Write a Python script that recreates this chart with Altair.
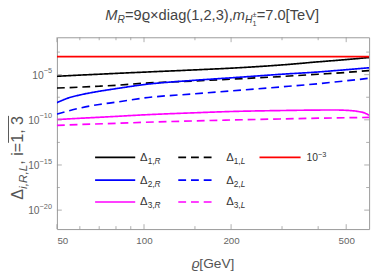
import altair as alt
import pandas as pd
import numpy as np

# ---- data (log10 of Delta values) ----
rho_a = [50, 60, 70, 80, 100, 150, 200, 300, 400, 500, 600]
delta1R = [-5.18, -5.05, -4.95, -4.86, -4.72, -4.47, -4.28, -3.92, -3.58, -3.33, -3.10]
delta1L = [-6.48, -6.38, -6.28, -6.18, -5.95, -5.70, -5.50, -5.20, -4.95, -4.75, -4.55]
rho_b = [50, 55, 60, 70, 80, 100, 150, 200, 300, 400, 500, 600]
delta2R = [-8.10, -7.56, -7.25, -6.84, -6.55, -6.10, -5.62, -5.35, -4.95, -4.70, -4.45, -4.24]
delta2L = [-9.36, -9.00, -8.70, -8.30, -8.05, -7.58, -7.12, -6.80, -6.35, -6.00, -5.68, -5.40]
rho_c = [50, 60, 75, 100, 150, 200, 300, 400, 450, 500, 550, 580, 600]
delta3R = [-9.97, -9.83, -9.67, -9.45, -9.22, -9.08, -8.97, -8.92, -8.91, -8.95, -9.08, -9.25, -9.50]
rho_d = [50, 60, 75, 100, 150, 200, 300, 400, 500, 600]
delta3L = [-10.62, -10.52, -10.42, -10.28, -10.12, -10.02, -9.90, -9.82, -9.77, -9.73]
rho_ref = [50, 600]
ref = [-3.0, -3.0]

names = ["d1R", "d1L", "ref", "d2R", "d2L", "d3R", "d3L"]
colors = ["#000000", "#000000", "#ff0000", "#0000ff", "#0000ff", "#ff00ff", "#ff00ff"]
dashes = [[1, 0], [8, 5], [1, 0], [1, 0], [8, 5], [1, 0], [8, 5]]

x_major = [50, 100, 200, 500]
x_minor = [60, 70, 80, 90, 150, 300, 400]
y_major_exp = [-5, -10, -15, -20]
y_minor_exp = [-2.5, -7.5, -12.5, -17.5]

# ---- layout constants ----
W, H = 319, 196
FONT = "Liberation Sans"
xscale = alt.Scale(type="log", domain=[50, 600], nice=False)
yscale = alt.Scale(type="log", domain=[10 ** -22.1, 10 ** -0.86], nice=False)

rows = []
for nm, xs, ys in [("d1R", rho_a, delta1R), ("d1L", rho_a, delta1L), ("ref", rho_ref, ref),
                   ("d2R", rho_b, delta2R), ("d2L", rho_b, delta2L),
                   ("d3R", rho_c, delta3R), ("d3L", rho_d, delta3L)]:
    for a, b in zip(xs, ys):
        rows.append({"rho": a, "val": 10 ** b, "name": nm})
df = pd.DataFrame(rows)

lines = alt.Chart(df).mark_line(strokeWidth=1.7, interpolate="monotone", clip=True).encode(
    x=alt.X("rho:Q", scale=xscale,
            axis=alt.Axis(values=x_major, tickSize=0, domain=False, grid=False, labelFont=FONT,
                          labelFontSize=10, labelColor="#666", labelPadding=7, title=None)),
    y=alt.Y("val:Q", scale=yscale, axis=None),
    color=alt.Color("name:N", scale=alt.Scale(domain=names, range=colors), legend=None),
    strokeDash=alt.StrokeDash("name:N", scale=alt.Scale(domain=names, range=dashes), legend=None),
    detail="name:N",
)

TICKC = "#999"


def xticks(vals, ln):
    d = pd.DataFrame({"v": vals})
    base = alt.Chart(d).mark_rule(color=TICKC, strokeWidth=0.8)
    bot = base.encode(x=alt.X("v:Q", scale=xscale, axis=None), y=alt.value(H), y2=alt.value(H - ln))
    top = base.encode(x=alt.X("v:Q", scale=xscale, axis=None), y=alt.value(0), y2=alt.value(ln))
    return [bot, top]


def yticks(exps, ln):
    d = pd.DataFrame({"v": [10.0 ** e for e in exps]})
    base = alt.Chart(d).mark_rule(color=TICKC, strokeWidth=0.8)
    left = base.encode(y=alt.Y("v:Q", scale=yscale, axis=None), x=alt.value(0), x2=alt.value(ln))
    right = base.encode(y=alt.Y("v:Q", scale=yscale, axis=None), x=alt.value(W), x2=alt.value(W - ln))
    return [left, right]


# ---- rich text helper (Arial / Liberation Sans advance widths) ----
AW = {" ": 278, ",": 278, ".": 278, "(": 333, ")": 333, "[": 278, "]": 278, "=": 584,
      "×": 584, "±": 584, "−": 584, "-": 333, "M": 833, "R": 722, "H": 722, "L": 556,
      "T": 611, "V": 667, "G": 778, "d": 556, "i": 222, "a": 556, "g": 556, "m": 833,
      "e": 556, "ϱ": 560, "Δ": 668}


def tw(t, fs):
    return sum(AW.get(c, 556) for c in t) * fs / 1000.0


text_rows = []
over_rows = []


def rich(pieces, x0, y0, color, angle=0, anchor="left"):
    total = 0.0
    for t, fs, dy, it, adv in pieces:
        if adv:
            total += tw(t, fs)
    start = {"left": 0.0, "center": -total / 2, "right": -total}[anchor]
    cur = start
    spans = []
    for t, fs, dy, it, adv in pieces:
        if angle == 0:
            px, py = x0 + cur, y0 + dy
        else:
            px, py = x0 + dy, y0 - cur
        text_rows.append({"px": px, "py": py, "txt": t, "fs": fs, "it": it, "ang": angle, "col": color})
        spans.append((cur, cur + tw(t, fs)))
        if adv:
            cur += tw(t, fs)
    return spans


# title
rich([("M", 15, 0, True, True), ("R", 10.5, 3, True, True), ("=9ϱ×diag(1,2,3),", 15, 0, False, True),
      ("m", 15, 0, True, True), ("H", 10.5, 3, True, True), ("1", 7.5, 6, False, False),
      ("±", 7.5, -3, False, True), ("=7.0[TeV]", 15, 0, False, True)],
     W / 2, -18, "#444", anchor="center")
# x title
rich([("ϱ", 14, 0, True, True), ("[GeV]", 14, 0, False, True)], W / 2, 236, "#555", anchor="center")
# y title (rotated)
yt_x, yt_y = -35, 166
spans = rich([("Δ", 16.5, 0, False, True), ("i,R,L", 12, 4, True, True), (", i=", 16.5, 0, False, True),
              ("1, 3", 16.5, 0, False, True)], yt_x, yt_y, "#555", angle=270)
s0, s1 = spans[-1]
over_rows.append({"x": yt_x - 14.5, "y": yt_y - s0, "y2": yt_y - s1})

# legend
LEGC = "#333"
leg_rows_y = [122.7, 146.0, 168.3]
leg_cols = [(39, 80, 85), (124, 160, 173), (207, 249, 255)]
leg_entries = [(0, 0, "1,R", "#000000", False), (0, 1, "1,L", "#000000", True), (0, 2, None, "#ff0000", False),
               (1, 0, "2,R", "#0000ff", False), (1, 1, "2,L", "#0000ff", True),
               (2, 0, "3,R", "#ff00ff", False), (2, 1, "3,L", "#ff00ff", True)]
seg_rows = []
for r, c, lab, col, dsh in leg_entries:
    x1, x2, xl = leg_cols[c]
    yy = leg_rows_y[r]
    seg_rows.append({"x": x1, "x2": x2, "y": yy, "col": col, "dash": dsh})
    if lab is None:
        rich([("10", 10.5, 0, False, True), ("−3", 7.5, -4.5, False, True)], xl, yy + 3.8, LEGC)
    else:
        rich([("Δ", 11.5, 0, False, True), (lab[:-1], 8.5, 3, False, True), (lab[-1], 8.5, 3, True, True)],
             xl, yy + 3.5, LEGC)

seg_df = pd.DataFrame(seg_rows)
leg_solid = alt.Chart(seg_df[~seg_df.dash]).mark_rule(strokeWidth=1.7).encode(
    x=alt.X("x:Q", scale=None, axis=None), x2="x2:Q", y=alt.Y("y:Q", scale=None, axis=None),
    color=alt.Color("col:N", scale=None, legend=None))
leg_dash = alt.Chart(seg_df[seg_df.dash]).mark_rule(strokeWidth=1.7, strokeDash=[8, 5]).encode(
    x=alt.X("x:Q", scale=None, axis=None), x2="x2:Q", y=alt.Y("y:Q", scale=None, axis=None),
    color=alt.Color("col:N", scale=None, legend=None))

# y tick labels: "10" + superscript exponent, right aligned
ylab = []
for e in y_major_exp:
    sup = "−" + str(-e)
    wsup = tw(sup, 7.5)
    ylab.append({"v": 10.0 ** e, "base": "10", "sup": sup, "xb": -5 - wsup - tw("10", 10.5), "xs": -5 - wsup})
ylab_df = pd.DataFrame(ylab)
ylab_base = alt.Chart(ylab_df).mark_text(font=FONT, fontSize=10.5, color="#666", align="left", baseline="middle", dy=1).encode(
    x=alt.X("xb:Q", scale=None, axis=None), y=alt.Y("v:Q", scale=yscale, axis=None), text="base:N")
ylab_sup = alt.Chart(ylab_df).mark_text(font=FONT, fontSize=7.5, color="#666", align="left", baseline="middle", dy=-3.5).encode(
    x=alt.X("xs:Q", scale=None, axis=None), y=alt.Y("v:Q", scale=yscale, axis=None), text="sup:N")

tdf = pd.DataFrame(text_rows)
text_layers = []
for it in [False, True]:
    for ang in [0, 270]:
        sub = tdf[(tdf.it == it) & (tdf.ang == ang)]
        if len(sub) == 0:
            continue
        text_layers.append(
            alt.Chart(sub).mark_text(font=FONT, align="left", baseline="alphabetic", angle=ang,
                                     fontStyle="italic" if it else "normal").encode(
                x=alt.X("px:Q", scale=None, axis=None), y=alt.Y("py:Q", scale=None, axis=None),
                text="txt:N", size=alt.Size("fs:Q", scale=None, legend=None),
                color=alt.Color("col:N", scale=None, legend=None)))

over = alt.Chart(pd.DataFrame(over_rows)).mark_rule(color="#555", strokeWidth=1).encode(
    x=alt.X("x:Q", scale=None, axis=None), y=alt.Y("y:Q", scale=None, axis=None), y2="y2:Q")

layers = ([lines] + xticks(x_major, 5) + xticks(x_minor, 3) + yticks(y_major_exp, 5) + yticks(y_minor_exp, 3)
          + [ylab_base, ylab_sup, leg_solid, leg_dash, over] + text_layers)

chart = alt.layer(*layers).resolve_scale(
    x="independent", y="independent", color="independent", size="independent", strokeDash="independent"
).properties(
    width=W, height=H, autosize="none",
    padding={"left": 50, "top": 27, "right": 5, "bottom": 44},
).configure_view(stroke="#999", strokeWidth=1)

chart.save("out.html", embed_options={"renderer": "svg", "actions": False})
